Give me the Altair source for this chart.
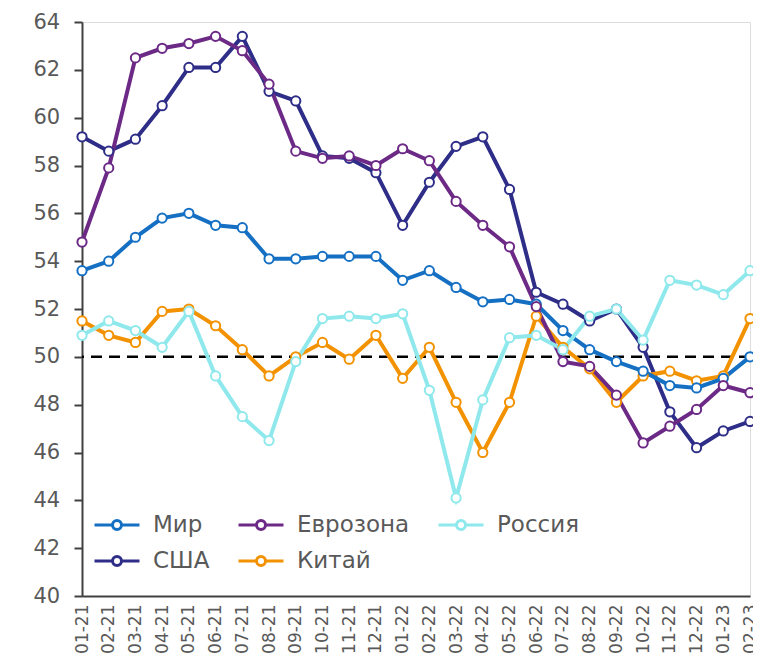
import altair as alt
import pandas as pd

months = ["01-21", "02-21", "03-21", "04-21", "05-21", "06-21", "07-21", "08-21", "09-21",
          "10-21", "11-21", "12-21", "01-22", "02-22", "03-22", "04-22", "05-22", "06-22",
          "07-22", "08-22", "09-22", "10-22", "11-22", "12-22", "01-23", "02-23"]

mir = [53.6, 54.0, 55.0, 55.8, 56.0, 55.5, 55.4, 54.1, 54.1, 54.2, 54.2, 54.2, 53.2,
       53.6, 52.9, 52.3, 52.4, 52.2, 51.1, 50.3, 49.8, 49.4, 48.8, 48.7, 49.1, 50.0]
eurozone = [54.8, 57.9, 62.5, 62.9, 63.1, 63.4, 62.8, 61.4, 58.6, 58.3, 58.4, 58.0, 58.7,
            58.2, 56.5, 55.5, 54.6, 52.1, 49.8, 49.6, 48.4, 46.4, 47.1, 47.8, 48.8, 48.5]
russia = [50.9, 51.5, 51.1, 50.4, 51.9, 49.2, 47.5, 46.5, 49.8, 51.6, 51.7, 51.6, 51.8,
          48.6, 44.1, 48.2, 50.8, 50.9, 50.3, 51.7, 52.0, 50.7, 53.2, 53.0, 52.6, 53.6]
usa = [59.2, 58.6, 59.1, 60.5, 62.1, 62.1, 63.4, 61.1, 60.7, 58.4, 58.3, 57.7, 55.5,
       57.3, 58.8, 59.2, 57.0, 52.7, 52.2, 51.5, 52.0, 50.4, 47.7, 46.2, 46.9, 47.3]
china = [51.5, 50.9, 50.6, 51.9, 52.0, 51.3, 50.3, 49.2, 50.0, 50.6, 49.9, 50.9, 49.1,
         50.4, 48.1, 46.0, 48.1, 51.7, 50.4, 49.5, 48.1, 49.2, 49.4, 49.0, 49.2, 51.6]

legend_order = ["Мир", "Еврозона", "Россия", "США", "Китай"]
colors = ["#1570c4", "#6c2a86", "#8ee8ec", "#2e2d88", "#f39200"]

draw_order = [("США", usa), ("Китай", china), ("Мир", mir), ("Еврозона", eurozone), ("Россия", russia)]
rows = []
for name, vals in draw_order:
    for m, v in zip(months, vals):
        rows.append({"month": m, "value": v, "series": name})
df = pd.DataFrame(rows)

FONT = "DejaVu Sans"
symbol_path = "M-1,0H-0.2M0.2,0H1M-0.2,0A0.2,0.2,0,1,0,0.2,0A0.2,0.2,0,1,0,-0.2,0Z"

y_scale = alt.Scale(domain=[40, 64], nice=False, zero=False)
y_axis = alt.Axis(title=None, values=list(range(40, 65, 2)), grid=False, offset=0,
                  labelFontSize=21, labelColor="#595959", labelFont=FONT, labelPadding=41,
                  labelAlign="left", labelBaseline="middle",
                  ticks=True, tickSize=8, tickWidth=2, tickColor="#404040",
                  domainColor="#404040", domainWidth=2)

x_enc = alt.X("month:O", sort=months, scale=alt.Scale(type="point", padding=0),
              axis=alt.Axis(title=None, labelAngle=-90, labelAlign="right", labelBaseline="middle",
                            labelFontSize=17, labelColor="#595959", labelFont=FONT, labelPadding=8,
                            ticks=False, domainColor="#404040", domainWidth=2))

rule = alt.Chart(pd.DataFrame({"y": [50]})).mark_rule(
    color="black", strokeWidth=2.5, strokeDash=[11, 7]
).encode(y=alt.Y("y:Q", scale=y_scale, axis=y_axis))

lines = alt.Chart(df).mark_line(
    strokeWidth=4,
    point=alt.OverlayMarkDef(filled=False, fill="white", size=85, strokeWidth=2, opacity=1),
).encode(
    x=x_enc,
    y=alt.Y("value:Q", scale=y_scale, axis=y_axis),
    color=alt.Color("series:N", scale=alt.Scale(domain=legend_order, range=colors),
                    legend=alt.Legend(title=None, orient="none", legendX=11, legendY=479,
                                      direction="horizontal", columns=3,
                                      symbolType=symbol_path, symbolSize=2025,
                                      symbolStrokeWidth=3, symbolFillColor="white",
                                      labelFontSize=23, labelColor="#595959", labelFont=FONT,
                                      labelOffset=12, columnPadding=22, rowPadding=0,
                                      padding=0)),
)

chart = alt.layer(rule, lines).properties(
    width=668, height=574,
    autosize=alt.AutoSizeParams(type="none"),
    padding={"left": 74, "top": 14, "right": 3, "bottom": 70},
).configure_view(stroke=None).configure(font=FONT)

chart.save("out.html", embed_options={"renderer": "svg", "actions": False})
